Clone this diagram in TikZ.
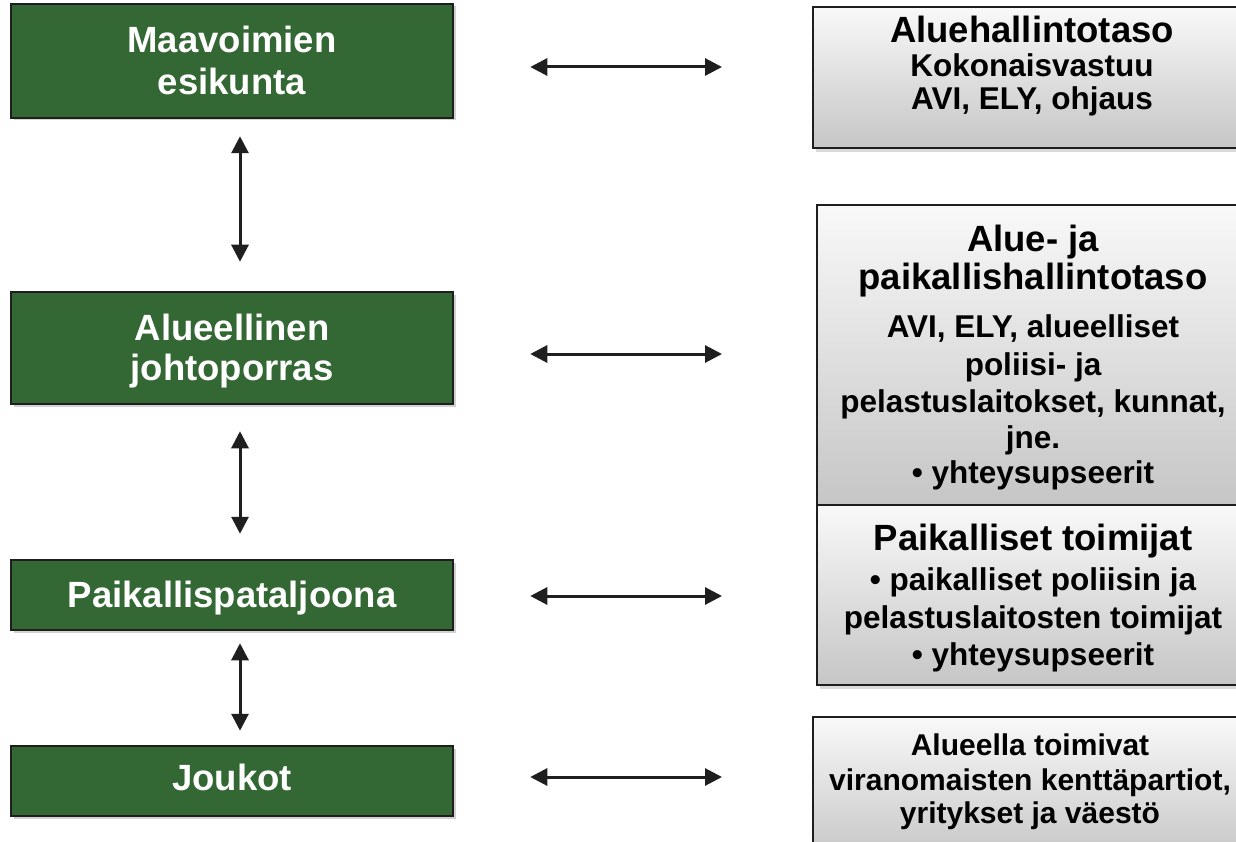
\documentclass[tikz,border=0pt]{standalone}
\usepackage{fontspec}
\setmainfont{Liberation Sans}
\usetikzlibrary{arrows.meta,shadows}
\definecolor{armygreen}{RGB}{51,103,51}
\definecolor{boxline}{RGB}{30,30,30}
\begin{document}
\begin{tikzpicture}[x=1pt,y=-1pt,
  gbox/.style={draw=boxline, line width=2.5pt, fill=armygreen, minimum width=442pt, inner sep=0pt,
    drop shadow={shadow xshift=2.5pt, shadow yshift=-2.5pt, fill=black, opacity=0.18}},
  rbox/.style={draw=boxline, line width=2pt, top color=gray!5, bottom color=gray!45, inner sep=0pt,
    drop shadow={shadow xshift=2.5pt, shadow yshift=-4pt, fill=black, opacity=0.15}},
  gtxt/.style={anchor=base, text=white, inner sep=0pt, font=\fontsize{36.5}{40}\selectfont\bfseries},
  htxt/.style={anchor=base, text=black, inner sep=0pt, font=\fontsize{36.5}{40}\selectfont\bfseries},
  btxt/.style={anchor=base, text=black, inner sep=0pt, font=\fontsize{31.5}{36}\selectfont\bfseries},
  stxt/.style={anchor=base, text=black, inner sep=0pt, font=\fontsize{30}{34}\selectfont\bfseries},
  arr/.style={draw=black!88, line width=3pt, {Triangle[length=17pt,width=17pt]}-{Triangle[length=17pt,width=17pt]}}
]
\useasboundingbox (0,0) rectangle (1236,842);
\fill[white] (0,0) rectangle (1236,842);

% left column
\node[gbox, minimum height=114pt] (g1) at (232,61) {};
\node[gbox, minimum height=112pt] (g2) at (232,348) {};
\node[gbox, minimum height=70pt] (g3) at (232,595) {};
\node[gbox, minimum height=70pt] (g4) at (232,781) {};

\node[gtxt] (g1a) at (232,53) {Maavoimien};
\node[gtxt] (g1b) at (232,95) {esikunta};
\node[gtxt] (g2a) at (232,340) {Alueellinen};
\node[gtxt] (g2b) at (232,380) {johtoporras};
\node[gtxt] (g3a) at (232,607) {Paikallispataljoona};
\node[gtxt] (g4a) at (232,790) {Joukot};

% right column
\node[rbox, minimum width=438pt, minimum height=141pt] (ra) at (1032,77.5) {};
\node[rbox, minimum width=434pt, minimum height=300pt] (rb) at (1034,355) {};
\node[rbox, minimum width=434pt, minimum height=180pt] (rc) at (1034,595) {};
\node[rbox, minimum width=438pt, minimum height=143pt] (rd) at (1032,788.5) {};

\node[htxt] (ra1) at (1032,43) {Aluehallintotaso};
\node[btxt] (ra2) at (1032,77) {Kokonaisvastuu};
\node[btxt] (ra3) at (1032,110) {AVI, ELY, ohjaus};

\node[htxt] (rb1) at (1033,252) {Alue- ja};
\node[htxt] (rb2) at (1033,290) {paikallishallintotaso};
\node[btxt] (rb3) at (1033,337) {AVI, ELY, alueelliset};
\node[btxt] (rb4) at (1033,375) {poliisi- ja};
\node[btxt] (rb5) at (1033,412) {pelastuslaitokset, kunnat,};
\node[btxt] (rb6) at (1033,448) {jne.};
\node[btxt] (rb7) at (1033,483) {• yhteysupseerit};

\node[htxt] (rc1) at (1033,550) {Paikalliset toimijat};
\node[btxt] (rc2) at (1033,590) {• paikalliset poliisin ja};
\node[btxt] (rc3) at (1033,628) {pelastuslaitosten toimijat};
\node[btxt] (rc4) at (1033,665) {• yhteysupseerit};

\node[stxt] (rd1) at (1030,755) {Alueella toimivat};
\node[stxt] (rd2) at (1030,790) {viranomaisten kenttäpartiot,};
\node[stxt] (rd3) at (1030,823) {yritykset ja väestö};

% vertical arrows
\draw[arr, shorten <=17pt, shorten >=29pt] ([xshift=8pt]g1.south) -- ([xshift=8pt]g2.north);
\draw[arr, shorten <=26pt, shorten >=25pt] ([xshift=8pt]g2.south) -- ([xshift=8pt]g3.north);
\draw[arr, shorten <=12pt, shorten >=14pt] ([xshift=8pt]g3.south) -- ([xshift=8pt]g4.north);

% horizontal arrows
\draw[arr, shorten <=76pt, shorten >=90pt] ([yshift=-6pt]g1.east) -- ([yshift=-6pt]g1.east -| ra.west);
\draw[arr, shorten <=76pt, shorten >=94pt] ([yshift=-6pt]g2.east) -- ([yshift=-6pt]g2.east -| rb.west);
\draw[arr, shorten <=76pt, shorten >=94pt] ([yshift=-1pt]g3.east) -- ([yshift=-1pt]g3.east -| rc.west);
\draw[arr, shorten <=76pt, shorten >=90pt] ([yshift=4pt]g4.east) -- ([yshift=4pt]g4.east -| rd.west);
\end{tikzpicture}
\end{document}
